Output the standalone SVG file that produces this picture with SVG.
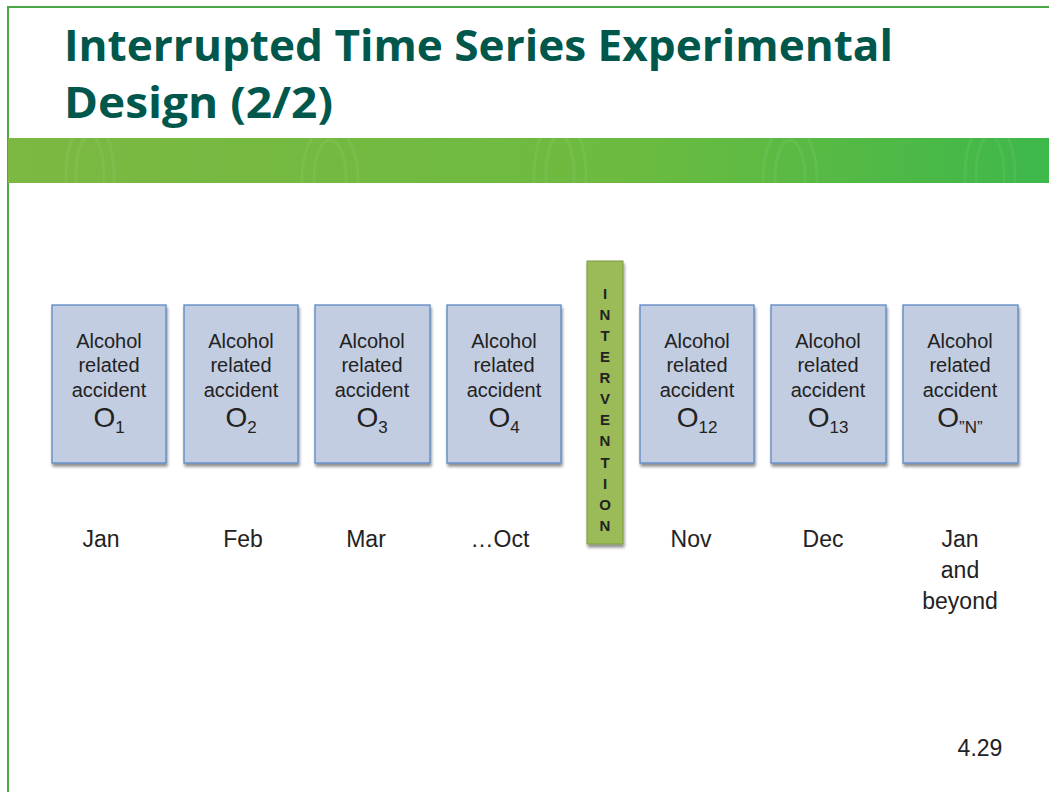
<svg xmlns="http://www.w3.org/2000/svg" width="1049" height="792" viewBox="0 0 1049 792">
<defs>
<linearGradient id="band" x1="0" y1="0" x2="1" y2="0">
<stop offset="0" stop-color="#7cb842"/>
<stop offset="0.6" stop-color="#6cbb40"/>
<stop offset="1" stop-color="#3db84a"/>
</linearGradient>
<filter id="sh" x="-10%" y="-10%" width="130%" height="130%">
<feGaussianBlur in="SourceAlpha" stdDeviation="1.5"/>
<feOffset dx="1" dy="3"/>
<feComponentTransfer><feFuncA type="linear" slope="0.45"/></feComponentTransfer>
<feMerge><feMergeNode/><feMergeNode in="SourceGraphic"/></feMerge>
</filter>
<style>
.title{font-family:"Open Sans","Lato",sans-serif;font-weight:bold;font-size:43px;fill:#00574b}
.box{fill:#c2cde1;stroke:#5b87c4;stroke-width:1.3}
.t{font-family:"Liberation Sans",Arial,sans-serif;font-size:20px;fill:#222;text-anchor:middle}
.o{font-family:"Liberation Sans",Arial,sans-serif;font-size:28px;fill:#222;text-anchor:middle}
.m{font-family:"Liberation Sans",Arial,sans-serif;font-size:23px;fill:#222;text-anchor:middle}
.iv{font-family:"Liberation Sans",Arial,sans-serif;font-size:15px;font-weight:bold;fill:#222;text-anchor:middle}
.rip{fill:none;stroke:#ffffff;stroke-opacity:0.06;stroke-width:3}
</style>
</defs>
<rect width="1049" height="792" fill="#fff"/>
<line x1="8" y1="7" x2="1049" y2="7" stroke="#4aa84a" stroke-width="2"/>
<line x1="8" y1="6" x2="8" y2="792" stroke="#4aa84a" stroke-width="2"/>
<rect x="8" y="138" width="1041" height="45" fill="url(#band)"/>
<g class="rip">
<ellipse cx="90" cy="175" rx="14" ry="40"/><ellipse cx="90" cy="175" rx="24" ry="55"/>
<ellipse cx="330" cy="178" rx="16" ry="38"/><ellipse cx="330" cy="178" rx="28" ry="52"/>
<ellipse cx="560" cy="175" rx="14" ry="40"/><ellipse cx="560" cy="175" rx="26" ry="56"/>
<ellipse cx="790" cy="178" rx="15" ry="38"/><ellipse cx="790" cy="178" rx="27" ry="54"/>
<ellipse cx="990" cy="175" rx="14" ry="40"/><ellipse cx="990" cy="175" rx="25" ry="55"/>
</g>
<text class="title" x="64" y="61" textLength="829" lengthAdjust="spacingAndGlyphs">Interrupted Time Series Experimental</text>
<text class="title" x="64" y="118" textLength="269" lengthAdjust="spacingAndGlyphs">Design (2/2)</text>

<g id="n1"><rect class="box" x="52" y="305" width="114" height="158" filter="url(#sh)"/>
<text class="t" x="109" y="348">Alcohol</text><text class="t" x="109" y="372">related</text><text class="t" x="109" y="397">accident</text>
<text class="o" x="109" y="427">O<tspan font-size="17" dy="6">1</tspan></text></g>
<g id="n2"><rect class="box" x="184" y="305" width="114" height="158" filter="url(#sh)"/>
<text class="t" x="241" y="348">Alcohol</text><text class="t" x="241" y="372">related</text><text class="t" x="241" y="397">accident</text>
<text class="o" x="241" y="427">O<tspan font-size="17" dy="6">2</tspan></text></g>
<g id="n3"><rect class="box" x="315" y="305" width="115" height="158" filter="url(#sh)"/>
<text class="t" x="372" y="348">Alcohol</text><text class="t" x="372" y="372">related</text><text class="t" x="372" y="397">accident</text>
<text class="o" x="372" y="427">O<tspan font-size="17" dy="6">3</tspan></text></g>
<g id="n4"><rect class="box" x="447" y="305" width="114" height="158" filter="url(#sh)"/>
<text class="t" x="504" y="348">Alcohol</text><text class="t" x="504" y="372">related</text><text class="t" x="504" y="397">accident</text>
<text class="o" x="504" y="427">O<tspan font-size="17" dy="6">4</tspan></text></g>
<g id="intervention"><rect x="587" y="261" width="36" height="283" fill="#9bbb59" stroke="#7d9a45" stroke-width="1" filter="url(#sh)"/>
<text class="iv" x="605" y="299">I</text><text class="iv" x="605" y="320">N</text><text class="iv" x="605" y="341">T</text><text class="iv" x="605" y="362">E</text>
<text class="iv" x="605" y="383">R</text><text class="iv" x="605" y="404">V</text><text class="iv" x="605" y="425">E</text><text class="iv" x="605" y="446">N</text>
<text class="iv" x="605" y="468">T</text><text class="iv" x="605" y="489">I</text><text class="iv" x="605" y="510">O</text><text class="iv" x="605" y="531">N</text></g>
<g id="n12"><rect class="box" x="640" y="305" width="114" height="158" filter="url(#sh)"/>
<text class="t" x="697" y="348">Alcohol</text><text class="t" x="697" y="372">related</text><text class="t" x="697" y="397">accident</text>
<text class="o" x="697" y="427">O<tspan font-size="17" dy="6">12</tspan></text></g>
<g id="n13"><rect class="box" x="771" y="305" width="115" height="158" filter="url(#sh)"/>
<text class="t" x="828" y="348">Alcohol</text><text class="t" x="828" y="372">related</text><text class="t" x="828" y="397">accident</text>
<text class="o" x="828" y="427">O<tspan font-size="17" dy="6">13</tspan></text></g>
<g id="nN"><rect class="box" x="903" y="305" width="115" height="158" filter="url(#sh)"/>
<text class="t" x="960" y="348">Alcohol</text><text class="t" x="960" y="372">related</text><text class="t" x="960" y="397">accident</text>
<text class="o" x="960" y="427">O<tspan font-size="17" dy="6">”N”</tspan></text></g>

<g id="months">
<text class="m" x="101" y="547">Jan</text>
<text class="m" x="243" y="547">Feb</text>
<text class="m" x="366" y="547">Mar</text>
<text class="m" x="500" y="547">…Oct</text>
<text class="m" x="691" y="547">Nov</text>
<text class="m" x="823" y="547">Dec</text>
<text class="m" x="960" y="547">Jan</text>
<text class="m" x="960" y="578">and</text>
<text class="m" x="960" y="609">beyond</text>
</g>
<text class="m" x="980" y="756">4.29</text>
<g id="connectors"/>
</svg>
